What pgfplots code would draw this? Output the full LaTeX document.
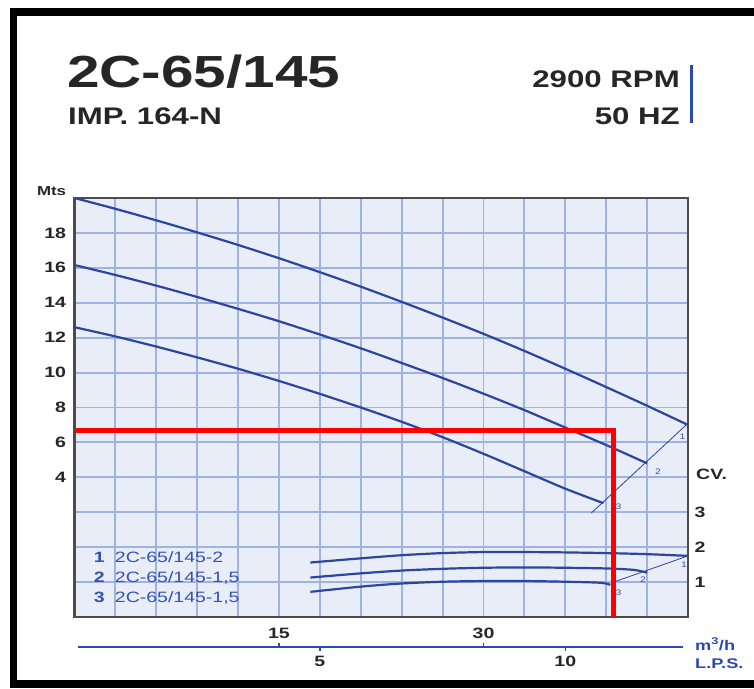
\documentclass[border=0pt]{standalone}
\usepackage{fontspec}
\setmainfont{Liberation Sans}
\newfontfamily\sfw[FakeStretch=1.3]{Liberation Sans}
\usepackage{pgfplots}
\pgfplotsset{compat=1.18}
\definecolor{curve}{HTML}{2B45A0}
\definecolor{gridc}{HTML}{A0B2E0}
\definecolor{bgc}{HTML}{E9EDF7}
\definecolor{txt}{HTML}{262626}
\definecolor{lblue}{HTML}{2A4AB2}
\definecolor{legc}{HTML}{3452B4}

\pgfplotsset{
  common/.style={
    at={(O)}, anchor=south west,
    width=613.5pt, height=419pt, scale only axis,
    xmin=0, xmax=45,
    /pgf/number format/assume math mode=true,
  }
}

\begin{document}
\begin{tikzpicture}[x=1pt,y=1pt]
\path[use as bounding box] (0,0) rectangle (754,688);
\coordinate (O) at (74.5,71);
\coordinate (S) at (74.5,41);
% frame
\fill[black] (10,672) rectangle (754,680);
\fill[black] (10,0) rectangle (17,680);
\fill[black] (10,0) rectangle (754,8);

% titles
\node[anchor=base west, inner sep=0, text=txt, font=\sfw\bfseries\fontsize{45}{45}\selectfont] at (67,600) {2C-65/145};
\node[anchor=base west, inner sep=0, text=txt, font=\sfw\bfseries\fontsize{24}{24}\selectfont] at (68,563) {IMP. 164-N};
\node[anchor=base east, inner sep=0, text=txt, font=\sfw\bfseries\fontsize{24}{24}\selectfont] at (680,600) {2900 RPM};
\node[anchor=base east, inner sep=0, text=txt, font=\sfw\bfseries\fontsize{24}{24}\selectfont] at (680,563) {50 HZ};
\draw[lblue, line width=3pt] (691,623) -- (691,565);

% head axis
\begin{axis}[common,
  ymin=-4, ymax=20,
  axis background/.style={fill=bgc},
  xtick={3,6,...,42}, xticklabels={},
  ytick={-2,0,2,4,6,8,10,12,14,16,18},
  yticklabels={{},{},{},4,6,8,10,12,14,16,18},
  grid=major, major grid style={gridc, line width=1.9pt},
  major tick length=0,
  axis line style={draw=black!70, line width=2.4pt},
  yticklabel style={font=\sfw\bfseries\fontsize{15}{15}\selectfont, text=txt, xshift=-5pt},
  clip=false,
]
\addplot[curve, line width=2.2pt, smooth] coordinates {
(0,20.0) (3,19.38) (6,18.72) (9,18.03) (12,17.31) (15,16.55) (18,15.75) (21,14.92)
(24,14.05) (27,13.15) (30,12.22) (33,11.24) (36,10.22) (39,9.17) (42,8.1) (45,7.0)};
\addplot[curve, line width=2.2pt, smooth] coordinates {
(0,16.16) (3,15.59) (6,14.98) (9,14.33) (12,13.65) (15,12.94) (18,12.18) (21,11.39)
(24,10.55) (27,9.69) (30,8.79) (33,7.85) (36,6.85) (39,5.85) (42,4.8)};
\addplot[curve, line width=2.2pt, smooth] coordinates {
(0,12.6) (3,12.07) (6,11.49) (9,10.87) (12,10.22) (15,9.52) (18,8.78) (21,8.0)
(24,7.18) (27,6.3) (30,5.35) (33,4.35) (36,3.35) (38.8,2.52)};
% label line for head curves
\addplot[curve, line width=0.8pt] coordinates {(37.9,1.95) (45,7.1)};
\node[text=legc, font=\sfw\fontsize{8}{8}\selectfont] at (44.6,6.3) {1};
\node[text=legc, font=\sfw\fontsize{8}{8}\selectfont] at (42.8,4.3) {2};
\node[text=legc, font=\sfw\fontsize{8}{8}\selectfont] at (39.9,2.3) {3};
% legend text
\node[anchor=base west, inner sep=0, text=legc, font=\sfw\bfseries\fontsize{15}{15}\selectfont] at (1.4,-0.86) {1};
\node[anchor=base west, inner sep=0, text=legc, font=\sfw\fontsize{15}{15}\selectfont] at (2.95,-0.86) {2C-65/145-2};
\node[anchor=base west, inner sep=0, text=legc, font=\sfw\bfseries\fontsize{15}{15}\selectfont] at (1.4,-2.0) {2};
\node[anchor=base west, inner sep=0, text=legc, font=\sfw\fontsize{15}{15}\selectfont] at (2.95,-2.0) {2C-65/145-1,5};
\node[anchor=base west, inner sep=0, text=legc, font=\sfw\bfseries\fontsize{15}{15}\selectfont] at (1.4,-3.15) {3};
\node[anchor=base west, inner sep=0, text=legc, font=\sfw\fontsize{15}{15}\selectfont] at (2.95,-3.15) {2C-65/145-1,5};
\node[anchor=south east, inner sep=0, text=txt, font=\sfw\bfseries\fontsize{13}{13}\selectfont] at (-0.6,20.1) {Mts};
\end{axis}

% power axis
\begin{axis}[common,
  ymin=0, ymax=12,
  axis line style={draw=none},
  xtick=\empty, ytick={1,2,3},
  yticklabel pos=right,
  major tick length=0,
  yticklabel style={font=\sfw\bfseries\fontsize{15}{15}\selectfont, text=txt, xshift=3pt},
  clip=false,
]
\addplot[curve, line width=2.2pt, smooth] coordinates {
(17.3,1.56) (21,1.68) (24,1.77) (27,1.83) (30,1.86) (33,1.86) (36,1.85) (39,1.83) (42,1.80) (45,1.75)};
\addplot[curve, line width=2.2pt, smooth] coordinates {
(17.3,1.13) (21,1.25) (24,1.33) (27,1.38) (30,1.41) (33,1.42) (36,1.41) (39,1.39) (41,1.35) (42,1.27)};
\addplot[curve, line width=2.2pt, smooth] coordinates {
(17.3,0.72) (21,0.87) (24,0.96) (27,1.01) (30,1.03) (33,1.03) (36,1.01) (38.6,0.98) (39.3,0.92)};
\addplot[curve, line width=0.8pt] coordinates {(39.4,0.98) (45,1.75)};
\node[text=legc, font=\sfw\fontsize{8}{8}\selectfont] at (44.7,1.49) {1};
\node[text=legc, font=\sfw\fontsize{8}{8}\selectfont] at (41.7,1.06) {2};
\node[text=legc, font=\sfw\fontsize{8}{8}\selectfont] at (39.9,0.69) {3};
\node[anchor=west, inner sep=0, text=txt, font=\sfw\bfseries\fontsize{15}{15}\selectfont] at (45,4.1) [xshift=8pt] {CV.};
\end{axis}

% red selection lines
\begin{axis}[common, ymin=-4, ymax=20, hide axis]
\addplot[red, line width=5pt, line join=miter] coordinates {(0,6.7) (39.5,6.7) (39.5,-4)};
\end{axis}

% bottom scale
\begin{axis}[at={(S)}, anchor=south west, width=613.5pt, height=10pt, scale only axis,
  xmin=0, xmax=45, ymin=0, ymax=1,
  hide y axis, axis x line=bottom, clip=false,
  x axis line style={lblue, line width=2pt, -, shorten <=3.5pt, shorten >=5pt},
  xtick={15,30}, xticklabels={},
  extra x ticks={18,36}, extra x tick labels={},
  tick style={lblue, line width=1.5pt},
  major tick length=4pt, tick align=inside,
  extra x tick style={tick align=outside},
]
\node[anchor=base, text=txt, font=\sfw\bfseries\fontsize{15}{15}\selectfont] at (15,0) [yshift=9pt] {15};
\node[anchor=base, text=txt, font=\sfw\bfseries\fontsize{15}{15}\selectfont] at (30,0) [yshift=9pt] {30};
\node[anchor=base, text=txt, font=\sfw\bfseries\fontsize{15}{15}\selectfont] at (18,0) [yshift=-19pt] {5};
\node[anchor=base, text=txt, font=\sfw\bfseries\fontsize{15}{15}\selectfont] at (36,0) [yshift=-19pt] {10};
\end{axis}
\node[anchor=base west, inner sep=0, text=lblue, font=\sfw\bfseries\fontsize{14}{14}\selectfont] at (695,38) {m\textsuperscript{3}/h};
\node[anchor=base west, inner sep=0, text=lblue, font=\sfw\bfseries\fontsize{14}{14}\selectfont] at (695,20) {L.P.S.};
\end{tikzpicture}
\end{document}
